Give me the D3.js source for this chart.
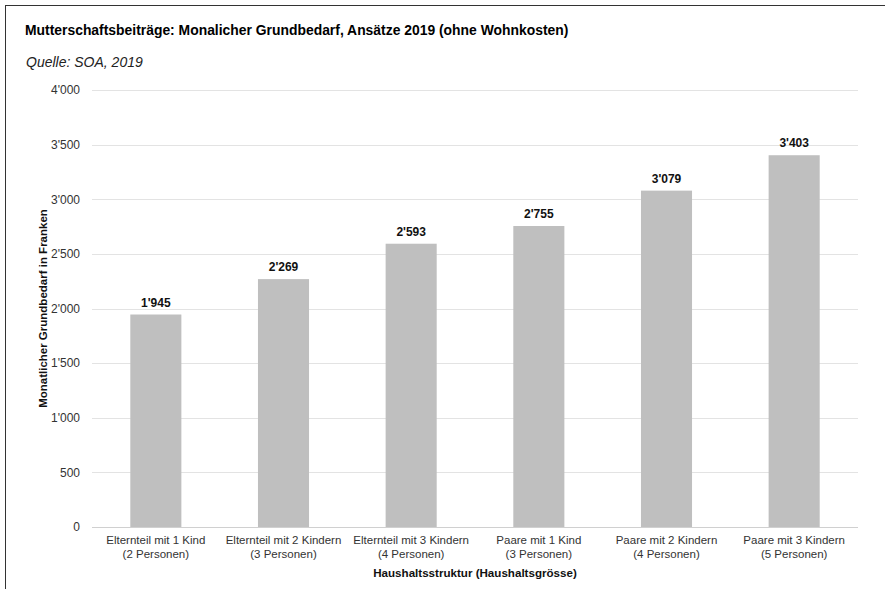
<!DOCTYPE html>
<html>
<head>
<meta charset="utf-8">
<script src="https://cdn.jsdelivr.net/npm/d3@7"></script>
<style>
  body { margin: 0; background: #fff; }
  svg text { font-family: "Liberation Sans", Arial, sans-serif; }
</style>
</head>
<body>
<div id="chart"></div>
<script>
// chart data
const categories = [
  ["Elternteil mit 1 Kind", "(2 Personen)"],
  ["Elternteil mit 2 Kindern", "(3 Personen)"],
  ["Elternteil mit 3 Kindern", "(4 Personen)"],
  ["Paare mit 1 Kind", "(3 Personen)"],
  ["Paare mit 2 Kindern", "(4 Personen)"],
  ["Paare mit 3 Kindern", "(5 Personen)"]
];
const values = [1945, 2269, 2593, 2755, 3079, 3403];
const yTicks = [0, 500, 1000, 1500, 2000, 2500, 3000, 3500, 4000];

const W = 885, H = 589;
const plotLeft = 92, plotRight = 858, plotTop = 90, plotBottom = 527;

// swiss thousands separator
const fmt = d3.formatLocale({decimal: ".", thousands: "'", grouping: [3], currency: ["", ""]}).format(",");

const svg = d3.select("#chart").append("svg")
  .attr("width", W).attr("height", H);

// outer frame (runs off the right/bottom edge like in the screenshot)
svg.append("rect")
  .attr("x", 5.5).attr("y", 5.5)
  .attr("width", W + 10).attr("height", H + 10)
  .attr("fill", "none").attr("stroke", "#333").attr("stroke-width", 1);

svg.append("text")
  .attr("x", 25).attr("y", 35)
  .style("font-size", "13.9px").style("font-weight", "bold").attr("fill", "#000")
  .text("Mutterschaftsbeiträge: Monalicher Grundbedarf, Ansätze 2019 (ohne Wohnkosten)");

svg.append("text")
  .attr("x", 26).attr("y", 67)
  .style("font-size", "14px").style("font-style", "italic").attr("fill", "#222")
  .text("Quelle: SOA, 2019");

const x = d3.scaleBand()
  .domain(d3.range(categories.length))
  .range([plotLeft, plotRight])
  .paddingInner(0.6).paddingOuter(0.3);

const y = d3.scaleLinear().domain([0, 4000]).range([plotBottom, plotTop]);

// gridlines
svg.append("g")
  .selectAll("line").data(yTicks).enter()
  .append("line")
  .attr("x1", plotLeft).attr("x2", plotRight)
  .attr("y1", d => Math.round(y(d)) + 0.5).attr("y2", d => Math.round(y(d)) + 0.5)
  .attr("stroke", d => d === 0 ? "#d0d0d0" : "#e3e3e3").attr("stroke-width", 1);

// y tick labels
const yAxis = svg.append("g")
  .attr("transform", "translate(" + (plotLeft - 9) + ",0)")
  .call(d3.axisLeft(y).tickValues(yTicks).tickSize(0).tickFormat(fmt));
yAxis.select(".domain").remove();
yAxis.selectAll("text")
  .style("font-size", "12px")
  .attr("fill", "#333");

// bars
svg.append("g")
  .selectAll("rect").data(values).enter()
  .append("rect")
  .attr("x", (d, i) => x(i))
  .attr("width", x.bandwidth())
  .attr("y", d => y(d))
  .attr("height", d => y(0) - y(d))
  .attr("fill", "#bfbfbf");

// value labels
svg.append("g")
  .selectAll("text").data(values).enter()
  .append("text")
  .attr("x", (d, i) => x(i) + x.bandwidth() / 2)
  .attr("y", d => y(d) - 8)
  .attr("text-anchor", "middle")
  .style("font-size", "12px").style("font-weight", "bold").attr("fill", "#111")
  .text(d => fmt(d));

// category labels
const xAxis = svg.append("g")
  .attr("transform", "translate(0," + plotBottom + ")")
  .call(d3.axisBottom(x).tickSize(0).tickFormat(""));
xAxis.select(".domain").remove();
xAxis.selectAll(".tick").each(function(d) {
  const t = d3.select(this).append("text")
    .attr("text-anchor", "middle").attr("fill", "#333")
    .style("font-size", "11.5px");
  t.append("tspan").attr("x", 0).attr("y", 17).text(categories[d][0]);
  t.append("tspan").attr("x", 0).attr("y", 31).text(categories[d][1]);
});

// axis titles
svg.append("text")
  .attr("x", 475).attr("y", 577)
  .attr("text-anchor", "middle")
  .style("font-size", "11.6px").style("font-weight", "bold").attr("fill", "#111")
  .text("Haushaltsstruktur (Haushaltsgrösse)");

svg.append("text")
  .attr("transform", "translate(47," + ((plotTop + plotBottom) / 2) + ") rotate(-90)")
  .attr("text-anchor", "middle")
  .style("font-size", "11.5px").style("font-weight", "bold").attr("fill", "#111")
  .text("Monatlicher Grundbedarf in Franken");
</script>
</body>
</html>
